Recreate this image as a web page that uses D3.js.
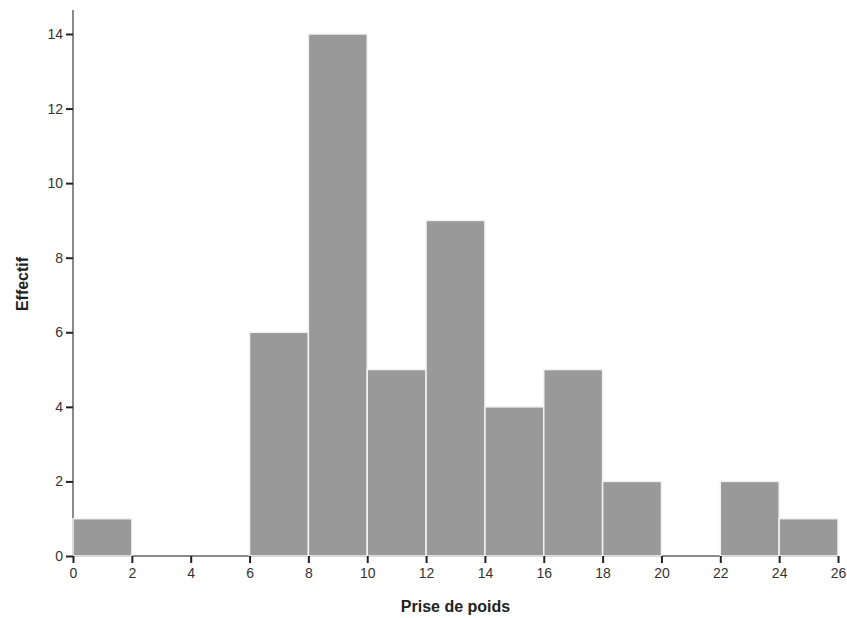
<!DOCTYPE html>
<html>
<head>
<meta charset="utf-8">
<script src="https://cdn.jsdelivr.net/npm/d3@7"></script>
<style>
  body { margin: 0; background: #fff; }
  text { font-family: "Liberation Sans", Arial, sans-serif; }
</style>
</head>
<body>
<div id="chart"></div>
<script>
// data (bin width 2)
const binStarts = [0, 2, 4, 6, 8, 10, 12, 14, 16, 18, 20, 22, 24];
const counts = [1, 0, 0, 6, 14, 5, 9, 4, 5, 2, 0, 2, 1];
const xTicks = [0, 2, 4, 6, 8, 10, 12, 14, 16, 18, 20, 22, 24, 26];
const yTicks = [0, 2, 4, 6, 8, 10, 12, 14];

const W = 847, H = 618;
const margin = { top: 10, right: 9, bottom: 62, left: 73 };
const width = W - margin.left - margin.right;
const height = H - margin.top - margin.bottom;

const svg = d3.select("#chart").append("svg")
    .attr("width", W).attr("height", H);
const g = svg.append("g")
    .attr("transform", `translate(${margin.left},${margin.top})`);

const x = d3.scaleLinear().domain([0, 26]).range([0, 765]);
const y = d3.scaleLinear().domain([0, 14]).range([height, height - 522]);

// axis lines
g.append("line")
    .attr("x1", 0).attr("x2", 0)
    .attr("y1", 0).attr("y2", height)
    .style("stroke", "#8a8a8a").style("stroke-width", 2);
g.append("line")
    .attr("x1", 0).attr("x2", x(26))
    .attr("y1", height).attr("y2", height)
    .style("stroke", "#8a8a8a").style("stroke-width", 2);

// bars
const bins = binStarts.map((b, i) => ({ x0: b, x1: b + 2, n: counts[i] }))
    .filter(d => d.n > 0);
g.selectAll("rect.bar")
    .data(bins)
    .enter()
    .append("rect")
    .attr("class", "bar")
    .attr("x", d => x(d.x0))
    .attr("width", d => x(d.x1) - x(d.x0))
    .attr("y", d => y(d.n))
    .attr("height", d => y(0) - y(d.n))
    .style("fill", "#999999")
    .style("stroke", "#f2f2f2")
    .style("stroke-width", 1.5);

// y axis
const yAxis = g.append("g")
    .call(d3.axisLeft(y).tickValues(yTicks).tickSize(7).tickPadding(3));
yAxis.select(".domain").remove();
yAxis.selectAll(".tick line").style("stroke", "#222").style("stroke-width", 2);
yAxis.selectAll(".tick text")
    .style("font-size", "14px").style("fill", "#333");

// x axis
const xAxis = g.append("g")
    .attr("transform", `translate(0,${height})`)
    .call(d3.axisBottom(x).tickValues(xTicks).tickSize(7).tickPadding(5));
xAxis.select(".domain").remove();
xAxis.selectAll(".tick line").style("stroke", "#222").style("stroke-width", 2);
xAxis.selectAll(".tick text")
    .style("font-size", "14px").style("fill", "#333");

// axis titles
svg.append("text")
    .attr("x", margin.left + x(13))
    .attr("y", 612)
    .attr("text-anchor", "middle")
    .style("font-size", "16px")
    .style("font-weight", "bold")
    .style("fill", "#222")
    .text("Prise de poids");

svg.append("text")
    .attr("transform", "rotate(-90)")
    .attr("x", -284)
    .attr("y", 28)
    .attr("text-anchor", "middle")
    .style("font-size", "16px")
    .style("font-weight", "bold")
    .style("fill", "#222")
    .text("Effectif");
</script>
</body>
</html>
